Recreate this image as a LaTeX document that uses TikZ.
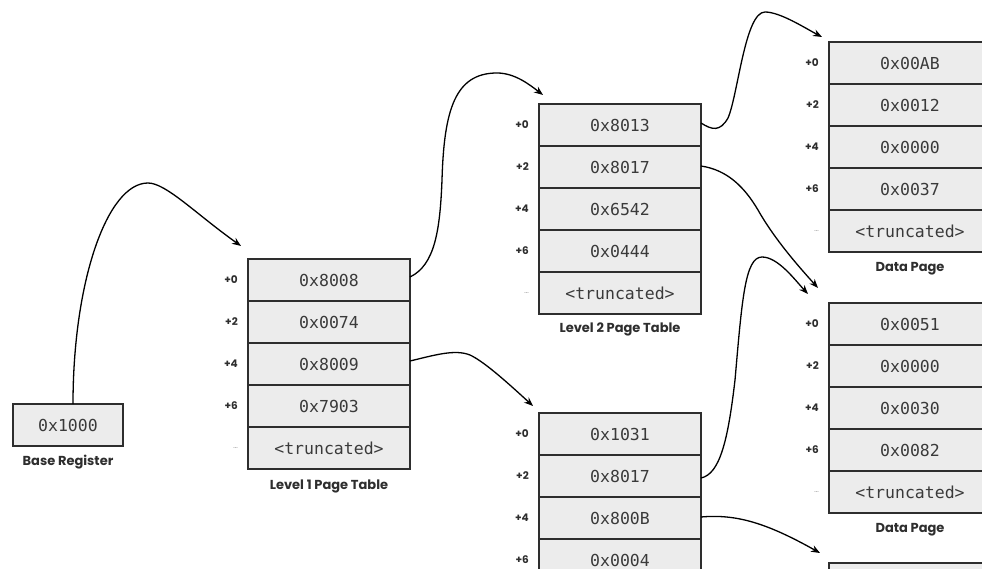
\documentclass[tikz,border=0pt]{standalone}
\usepackage{fontspec}
\setmainfont{Poppins}
\newfontfamily\cellfont{DejaVu Sans Mono}
\usetikzlibrary{positioning,arrows.meta}
\definecolor{cellgray}{HTML}{ECECEC}
\definecolor{linegray}{HTML}{2E2E2E}
\definecolor{textgray}{HTML}{3A3A3A}
\begin{document}
\begin{tikzpicture}[x=1pt, y=-1pt,
        cell/.style={draw=linegray, line width=1.4pt, fill=cellgray, minimum width=162pt, minimum height=42pt,
            inner sep=0pt, outer sep=0pt, text=textgray, font=\cellfont\fontsize{16.5}{17}\selectfont},
        reg/.style={cell, minimum width=110pt},
        offs/.style={inner sep=1pt, text=linegray, font=\bfseries\fontsize{10.5}{12}\selectfont},
        dots/.style={offs, text=gray, font=\scriptsize},
        lbl/.style={inner sep=1pt, text=linegray, font=\bfseries\fontsize{13}{14}\selectfont},
        flecha/.style={-{Stealth[length=9pt, width=7pt]}, line width=1.3pt, draw=black}
    ]
    \fill[white] (0,0) rectangle (982,569);
    \useasboundingbox (0,0) rectangle (982,569);
    \clip (0,0) rectangle (982,569);

    % base register
    \node (base) [reg] at (68,425) {0x1000};
    \node (baselbl) [lbl, below=8pt of base] {Base Register};

    % level 1 page table
    \node (l1r0) [cell] at (329,280) {0x8008};
    \node (l1r1) [cell, below=0pt of l1r0] {0x0074};
    \node (l1r2) [cell, below=0pt of l1r1] {0x8009};
    \node (l1r3) [cell, below=0pt of l1r2] {0x7903};
    \node (l1r4) [cell, below=0pt of l1r3] {<truncated>};
    \node (l1o0) [offs, left=9pt of l1r0] {+0};
    \node (l1o1) [offs, left=9pt of l1r1] {+2};
    \node (l1o2) [offs, left=9pt of l1r2] {+4};
    \node (l1o3) [offs, left=9pt of l1r3] {+6};
    \node (l1o4) [dots, left=9pt of l1r4] {...};
    \node (l1lbl) [lbl, below=10pt of l1r4] {Level 1 Page Table};

    % level 2 page table (upper)
    \node (l2ar0) [cell] at (620,125) {0x8013};
    \node (l2ar1) [cell, below=0pt of l2ar0] {0x8017};
    \node (l2ar2) [cell, below=0pt of l2ar1] {0x6542};
    \node (l2ar3) [cell, below=0pt of l2ar2] {0x0444};
    \node (l2ar4) [cell, below=0pt of l2ar3] {<truncated>};
    \node (l2ao0) [offs, left=9pt of l2ar0] {+0};
    \node (l2ao1) [offs, left=9pt of l2ar1] {+2};
    \node (l2ao2) [offs, left=9pt of l2ar2] {+4};
    \node (l2ao3) [offs, left=9pt of l2ar3] {+6};
    \node (l2ao4) [dots, left=9pt of l2ar4] {...};
    \node (l2albl) [lbl, below=8pt of l2ar4] {Level 2 Page Table};

    % level 2 page table (lower)
    \node (l2br0) [cell] at (620,434) {0x1031};
    \node (l2br1) [cell, below=0pt of l2br0] {0x8017};
    \node (l2br2) [cell, below=0pt of l2br1] {0x800B};
    \node (l2br3) [cell, below=0pt of l2br2] {0x0004};
    \node (l2bo0) [offs, left=9pt of l2br0] {+0};
    \node (l2bo1) [offs, left=9pt of l2br1] {+2};
    \node (l2bo2) [offs, left=9pt of l2br2] {+4};
    \node (l2bo3) [offs, left=9pt of l2br3] {+6};

    % data pages
    \node (dpar0) [cell] at (910,63) {0x00AB};
    \node (dpar1) [cell, below=0pt of dpar0] {0x0012};
    \node (dpar2) [cell, below=0pt of dpar1] {0x0000};
    \node (dpar3) [cell, below=0pt of dpar2] {0x0037};
    \node (dpar4) [cell, below=0pt of dpar3] {<truncated>};
    \node (dpao0) [offs, left=9pt of dpar0] {+0};
    \node (dpao1) [offs, left=9pt of dpar1] {+2};
    \node (dpao2) [offs, left=9pt of dpar2] {+4};
    \node (dpao3) [offs, left=9pt of dpar3] {+6};
    \node (dpao4) [dots, left=9pt of dpar4] {...};
    \node (dpalbl) [lbl, below=9pt of dpar4] {Data Page};

    \node (dpbr0) [cell] at (910,324) {0x0051};
    \node (dpbr1) [cell, below=0pt of dpbr0] {0x0000};
    \node (dpbr2) [cell, below=0pt of dpbr1] {0x0030};
    \node (dpbr3) [cell, below=0pt of dpbr2] {0x0082};
    \node (dpbr4) [cell, below=0pt of dpbr3] {<truncated>};
    \node (dpbo0) [offs, left=9pt of dpbr0] {+0};
    \node (dpbo1) [offs, left=9pt of dpbr1] {+2};
    \node (dpbo2) [offs, left=9pt of dpbr2] {+4};
    \node (dpbo3) [offs, left=9pt of dpbr3] {+6};
    \node (dpbo4) [dots, left=9pt of dpbr4] {...};
    \node (dpblbl) [lbl, below=9pt of dpbr4] {Data Page};

    \node (dpcr0) [cell] at (910,584) {};

    % pointers
    \draw [flecha] ([xshift=5pt]base.north) .. controls (73,282) and (107,183) .. (148,183)
        .. controls (166,183) and (196,214) .. ([shift={(-7,-13)}]l1r0.north west);
    \draw [flecha] ([yshift=3pt]l1r0.east) .. controls (435,265) and (440,230) .. (442,180)
        .. controls (444,110) and (455,73) .. (497,73) .. controls (515,73) and (530,85) .. ([shift={(4,-9)}]l2ar0.north west);
    \draw [flecha] ([yshift=3pt]l1r2.east) .. controls (435,355) and (455,349) .. (470,355)
        .. controls (485,362) and (510,385) .. ([shift={(-6,-7)}]l2br0.north west);
    \draw [flecha] ([yshift=2pt]l2ar0.east) .. controls (712,130) and (720,132) .. (728,118)
        .. controls (738,95) and (745,12) .. (765,12) .. controls (780,12) and (805,28) .. ([shift={(-7,-5)}]dpar0.north west);
    \draw [flecha] ([yshift=1pt]l2ar1.east) .. controls (728,170) and (745,188) .. (758,210)
        .. controls (775,240) and (800,268) .. ([shift={(-11,-15)}]dpbr0.north west);
    \draw [flecha] ([yshift=-2pt]l2br1.east) .. controls (720,474) and (728,440) .. (735,380)
        .. controls (742,300) and (745,257) .. (762,257) .. controls (778,257) and (795,280) .. ([shift={(-21,-9)}]dpbr0.north west);
    \draw [flecha] ([yshift=1pt]l2br2.east) .. controls (735,514) and (765,522) .. ([shift={(-9,-10)}]dpcr0.north west);
\end{tikzpicture}
\end{document}
